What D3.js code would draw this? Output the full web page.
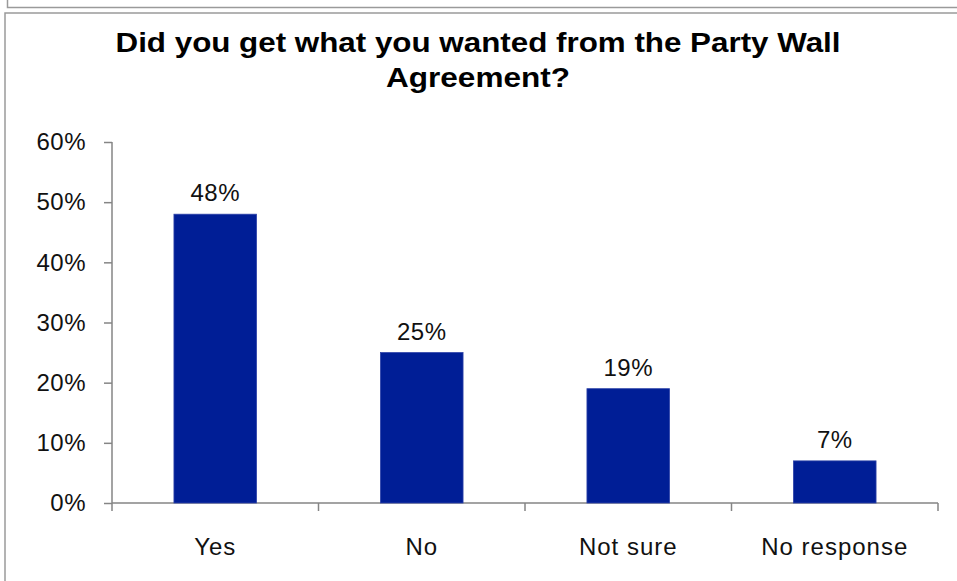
<!DOCTYPE html>
<html>
<head>
<meta charset="utf-8">
<script src="https://cdn.jsdelivr.net/npm/d3@7"></script>
<style>
  html, body { margin: 0; padding: 0; background: #fff; }
  svg { display: block; }
  text { font-family: "Liberation Sans", Arial, sans-serif; }
</style>
</head>
<body>
<svg id="chart" width="957" height="581"></svg>
<script>
const titleLines = ["Did you get what you wanted from the Party Wall", "Agreement?"];
const categories = ["Yes", "No", "Not sure", "No response"];
const values = [48, 25, 19, 7];
const yTicks = [0, 10, 20, 30, 40, 50, 60];

const svg = d3.select("#chart");
const W = 957, H = 581;

// frames
svg.append("rect").attr("x", 0).attr("y", 0).attr("width", W).attr("height", H).attr("fill", "#fff");
// upper (previous) box edges
svg.append("path").attr("d", "M7.5,0 V7.5 H957").attr("fill", "none").attr("stroke", "#9a9a9a").attr("stroke-width", 1.5);
// lower (chart) box edges
svg.append("path").attr("d", "M5,581 V13 H957").attr("fill", "none").attr("stroke", "#9a9a9a").attr("stroke-width", 1.5);

const x = d3.scaleBand().domain(categories).range([112, 938]).paddingInner(0.6).paddingOuter(0.3);
const y = d3.scaleLinear().domain([0, 60]).range([503, 142]);

const axisColor = "#858585";

// title
const tl = [{t: titleLines[0], y: 52, len: 725}, {t: titleLines[1], y: 87, len: 184}];
svg.selectAll("text.title").data(tl).enter().append("text")
  .attr("class", "title")
  .attr("x", 478).attr("y", d => d.y)
  .attr("text-anchor", "middle")
  .attr("font-size", 27).attr("font-weight", "bold").attr("fill", "#000")
  .attr("textLength", d => d.len).attr("lengthAdjust", "spacingAndGlyphs")
  .text(d => d.t);

// y axis
const yAxis = svg.append("g").attr("transform", "translate(112,0)")
  .call(d3.axisLeft(y).tickValues(yTicks).tickFormat(d => d + "%").tickSize(8).tickPadding(18));
yAxis.select(".domain").remove();
yAxis.selectAll(".tick line").attr("stroke", axisColor).attr("stroke-width", 1.5);
yAxis.selectAll(".tick text").attr("font-size", 24).attr("fill", "#111")
  .attr("font-family", "'Liberation Sans', Arial, sans-serif").attr("letter-spacing", 0.5);
svg.append("line").attr("x1", 112).attr("x2", 112).attr("y1", y(60)).attr("y2", y(0) + 8)
  .attr("stroke", axisColor).attr("stroke-width", 1.5);

// x axis baseline and boundary ticks
svg.append("line").attr("x1", x.range()[0]).attr("x2", x.range()[1]).attr("y1", y(0)).attr("y2", y(0))
  .attr("stroke", axisColor).attr("stroke-width", 1.5);
const bounds = categories.map(c => x(c) - x.step() * x.paddingInner() / 2).concat([x.range()[1]]).slice(1);
svg.selectAll("line.bt").data(bounds).enter().append("line").attr("class", "bt")
  .attr("x1", d => d).attr("x2", d => d).attr("y1", y(0)).attr("y2", y(0) + 8)
  .attr("stroke", axisColor).attr("stroke-width", 1.5);

// bars
svg.selectAll("rect.bar").data(values).enter().append("rect").attr("class", "bar")
  .attr("x", (d, i) => x(categories[i]))
  .attr("y", d => y(d))
  .attr("width", x.bandwidth())
  .attr("height", d => y(0) - y(d))
  .attr("fill", "#001e96")
  .attr("stroke", "#2d43a8").attr("stroke-width", 0.8);

// value labels
svg.selectAll("text.val").data(values).enter().append("text").attr("class", "val")
  .attr("x", (d, i) => x(categories[i]) + x.bandwidth() / 2)
  .attr("y", d => y(d) - 13)
  .attr("text-anchor", "middle").attr("font-size", 24).attr("fill", "#111")
  .attr("letter-spacing", 0.5)
  .text(d => d + "%");

// category labels
const xAxis = svg.append("g").attr("transform", `translate(0,${y(0)})`)
  .call(d3.axisBottom(x).tickSize(0).tickPadding(35));
xAxis.select(".domain").remove();
xAxis.selectAll(".tick text").attr("font-size", 24).attr("fill", "#111")
  .attr("font-family", "'Liberation Sans', Arial, sans-serif").attr("letter-spacing", 1);
</script>
</body>
</html>
